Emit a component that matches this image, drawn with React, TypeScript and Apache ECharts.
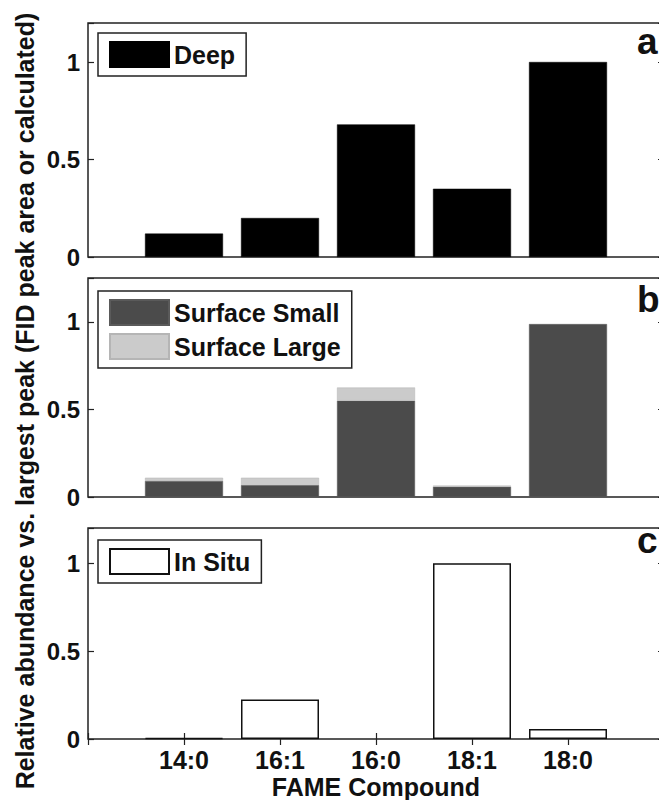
import React, { useEffect, useRef } from 'react';
import * as echarts from 'echarts';

// ---- data ----
const categories = ['14:0', '16:1', '16:0', '18:1', '18:0'];
const deep = [0.12, 0.2, 0.68, 0.35, 1.0];
const surfaceSmall = [0.092, 0.068, 0.55, 0.058, 0.987];
const surfaceLarge = [0.018, 0.042, 0.075, 0.007, 0];
const inSitu = [0.005, 0.225, 0, 1.0, 0.057];
const yTicks = [0, 0.5, 1];
const yMax = [1.2, 1.25, 1.2];
const panelLetters = ['a', 'b', 'c'];
const yTitle = 'Relative abundance vs. largest peak (FID peak area or calculated)';
const xTitle = 'FAME Compound';

const FONT = '"Liberation Sans", Arial, Helvetica, sans-serif';
const AXIS = '#222222';

// padded category list: empty slots at both ends give the half-empty margins (xlim 0..6)
const axisCategories = [' ', ...categories, '  '];
const padded = (vals: number[]) => [null, ...vals, null];

const grids = [
  { left: 88, top: 23, width: 576, height: 234 },
  { left: 88, top: 278, width: 576, height: 219 },
  { left: 88, top: 528, width: 576, height: 211 },
];

const yLabelFormatter = (v: number) => {
  const hit = yTicks.find((t) => Math.abs(t - v) < 1e-9);
  return hit === undefined ? '' : String(hit);
};

function buildOption() {
  const grid = grids.map((g) => ({
    ...g,
    show: true,
    borderColor: AXIS,
    borderWidth: 1.5,
    backgroundColor: 'transparent',
    containLabel: false,
    outerBoundsMode: 'none',
  }));

  const tickStyle = { show: true, inside: true, length: 6, lineStyle: { color: AXIS, width: 1.2 } };

  const hiddenX = (gridIndex: number) => ({
    type: 'category',
    gridIndex,
    data: axisCategories,
    boundaryGap: false,
    axisLine: { show: false },
    axisTick: { show: false },
    axisLabel: { show: false },
    splitLine: { show: false },
  });

  const xAxis: any[] = [
    hiddenX(0),
    hiddenX(1),
    {
      type: 'category',
      gridIndex: 2,
      data: axisCategories,
      boundaryGap: false,
      axisLine: { show: false },
      axisTick: tickStyle,
      axisLabel: {
        margin: 8,
        interval: 0,
        color: '#111',
        fontFamily: FONT,
        fontWeight: 'bold',
        fontSize: 25,
      },
      splitLine: { show: false },
      name: xTitle,
      nameLocation: 'middle',
      nameGap: 35,
      nameTextStyle: { color: '#111', fontFamily: FONT, fontWeight: 'bold', fontSize: 25 },
    },
    {
      type: 'category',
      gridIndex: 2,
      position: 'top',
      data: axisCategories,
      boundaryGap: false,
      axisLine: { show: false },
      axisTick: tickStyle,
      axisLabel: { show: false },
      splitLine: { show: false },
    },
  ];

  const yAxis: any[] = [];
  grids.forEach((_, gi) => {
    yAxis.push({
      type: 'value',
      gridIndex: gi,
      min: 0,
      max: yMax[gi],
      interval: 0.5,
      axisLine: { show: false },
      axisTick: tickStyle,
      axisLabel: {
        margin: 8,
        color: '#111',
        fontFamily: FONT,
        fontWeight: 'bold',
        fontSize: 24,
        formatter: yLabelFormatter,
      },
      splitLine: { show: false },
    });
    yAxis.push({
      type: 'value',
      gridIndex: gi,
      position: 'right',
      min: 0,
      max: yMax[gi],
      interval: 0.5,
      axisLine: { show: false },
      axisTick: tickStyle,
      axisLabel: { show: false },
      splitLine: { show: false },
    });
  });

  // zero-height bars draw no outline (as in the reference)
  const outlined = (vals: number[]) =>
    padded(vals).map((v) =>
      v === 0 ? { value: 0, itemStyle: { borderWidth: 0, opacity: 0 } } : v
    );

  const series: any[] = [
    {
      name: 'Deep',
      type: 'bar',
      xAxisIndex: 0,
      yAxisIndex: 0,
      barWidth: 78,
      data: padded(deep),
      itemStyle: { color: '#000000', borderColor: '#000000', borderWidth: 0.5 },
    },
    {
      name: 'Surface Small',
      type: 'bar',
      xAxisIndex: 1,
      yAxisIndex: 2,
      stack: 'surface',
      barWidth: 78,
      data: padded(surfaceSmall),
      itemStyle: { color: '#4b4b4b', borderColor: '#5a5a5a', borderWidth: 0.5 },
    },
    {
      name: 'Surface Large',
      type: 'bar',
      xAxisIndex: 1,
      yAxisIndex: 2,
      stack: 'surface',
      barWidth: 78,
      data: outlined(surfaceLarge),
      itemStyle: { color: '#cbcbcb', borderColor: '#b5b5b5', borderWidth: 0.5 },
    },
    {
      name: 'In Situ',
      type: 'bar',
      xAxisIndex: 2,
      yAxisIndex: 4,
      barWidth: 78,
      data: outlined(inSitu),
      itemStyle: { color: '#ffffff', borderColor: '#111111', borderWidth: 1.5 },
    },
  ];

  const legendBase = {
    orient: 'vertical',
    left: 98,
    padding: [8, 11, 8, 11],
    itemWidth: 59,
    itemHeight: 25,
    itemGap: 7,
    icon: 'rect',
    selectedMode: false,
    borderColor: AXIS,
    borderWidth: 1.5,
    backgroundColor: '#ffffff',
    textStyle: {
      color: '#111',
      fontFamily: FONT,
      fontWeight: 'bold',
      fontSize: 25,
      lineHeight: 25,
    },
  };
  const legend = [
    { ...legendBase, top: 33, data: ['Deep'] },
    { ...legendBase, top: 291, data: ['Surface Small', 'Surface Large'] },
    { ...legendBase, top: 540, data: ['In Situ'] },
  ];

  const letterCenters = [41, 299, 540];
  const graphic: any[] = [
    {
      type: 'text',
      x: 25,
      y: 401,
      rotation: Math.PI / 2,
      style: {
        text: yTitle,
        fill: '#111',
        font: `bold 25px ${FONT}`,
        align: 'center',
        verticalAlign: 'middle',
      },
    },
    ...panelLetters.map((t, i) => ({
      type: 'text',
      x: 637,
      y: letterCenters[i],
      style: {
        text: t,
        fill: '#111',
        font: `bold 37px ${FONT}`,
        align: 'left',
        verticalAlign: 'middle',
      },
    })),
  ];

  return {
    animation: false,
    backgroundColor: '#ffffff',
    grid,
    xAxis,
    yAxis,
    series,
    legend,
    graphic,
  };
}

export default function App() {
  const ref = useRef<HTMLDivElement>(null);
  useEffect(() => {
    if (!ref.current) return;
    const chart = echarts.init(ref.current, undefined, { renderer: 'svg' });
    chart.setOption(buildOption() as any);
    return () => chart.dispose();
  }, []);
  return (
    <div
      ref={ref}
      style={{ position: 'absolute', left: 0, top: 0, width: 659, height: 800, background: '#fff' }}
    />
  );
}
